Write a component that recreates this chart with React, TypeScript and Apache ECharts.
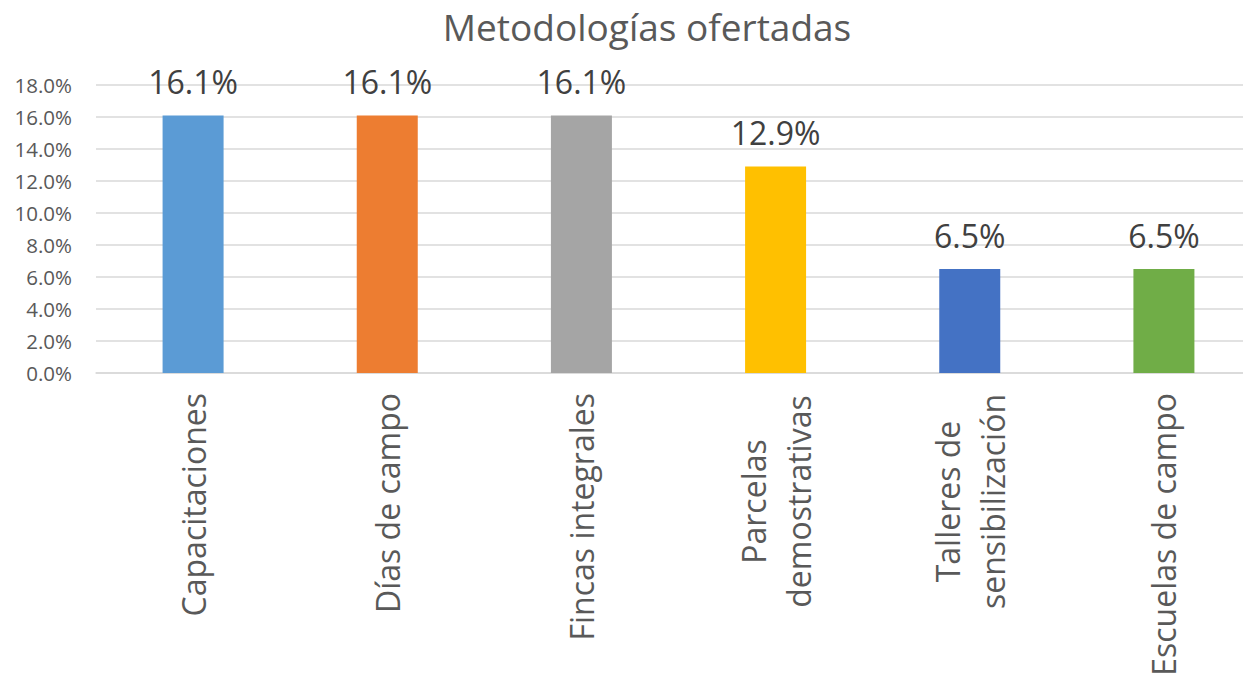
import React, { useEffect, useRef } from "react";
import * as echarts from "echarts";

const titleText = "Metodologías ofertadas";
const categories = [
  "Capacitaciones",
  "Días de campo",
  "Fincas integrales",
  "Parcelas\ndemostrativas",
  "Talleres de\nsensibilización",
  "Escuelas de campo",
];
const values = [16.1, 16.1, 16.1, 12.9, 6.5, 6.5];
const colors = ["#5B9BD5", "#ED7D31", "#A5A5A5", "#FFC000", "#4472C4", "#70AD47"];
const yMin = 0;
const yMax = 18;
const yInterval = 2;

const FONT = "'Open Sans', 'Noto Sans', sans-serif";

export default function App() {
  const ref = useRef<HTMLDivElement>(null);
  useEffect(() => {
    if (!ref.current) return;
    const chart = echarts.init(ref.current, null, { renderer: "svg" });
    chart.setOption({
      animation: false,
      backgroundColor: "#ffffff",
      title: {
        text: titleText,
        left: 642,
        textAlign: "center",
        top: 3,
        textStyle: { fontFamily: FONT, fontSize: 37, fontWeight: "normal", color: "#595959" },
      },
      grid: { left: 96, right: 0, top: 85, bottom: 306, outerBoundsMode: "none" },
      xAxis: {
        type: "category",
        data: categories,
        axisLine: { lineStyle: { color: "#D9D9D9", width: 1.5 } },
        axisTick: { show: false },
        axisLabel: {
          rotate: 90,
          interval: 0,
          margin: 20,
          fontFamily: FONT,
          fontSize: 32,
          color: "#595959",
          lineHeight: 45,
          formatter: (v: string) =>
            v.includes("\n")
              ? v.split("\n").map((l) => `{m|${l}}`).join("\n")
              : v,
          rich: {
            m: {
              width: 217,
              align: "center",
              fontFamily: FONT,
              fontSize: 32,
              color: "#595959",
              lineHeight: 45,
            },
          },
        },
      },
      yAxis: {
        type: "value",
        min: yMin,
        max: yMax,
        interval: yInterval,
        axisLine: { show: false },
        axisTick: { show: false },
        splitLine: { lineStyle: { color: "#D9D9D9", width: 1.5 } },
        axisLabel: {
          margin: 24,
          fontFamily: FONT,
          fontSize: 20.5,
          color: "#595959",
          formatter: (v: number) => v.toFixed(1) + "%",
        },
      },
      series: [
        {
          type: "bar",
          barWidth: 61,
          data: values.map((v, i) => ({ value: v, itemStyle: { color: colors[i] } })),
          label: {
            show: true,
            position: "top",
            distance: 18,
            fontFamily: FONT,
            fontSize: 32,
            color: "#404040",
            formatter: (p: any) => p.value.toFixed(1) + "%",
          },
        },
      ],
    });
    return () => chart.dispose();
  }, []);
  return (
    <div
      style={{ position: "absolute", left: 0, top: 0, width: 1243, height: 679, overflow: "hidden" }}
    >
      <div ref={ref} style={{ width: 1261, height: 679 }} />
    </div>
  );
}
